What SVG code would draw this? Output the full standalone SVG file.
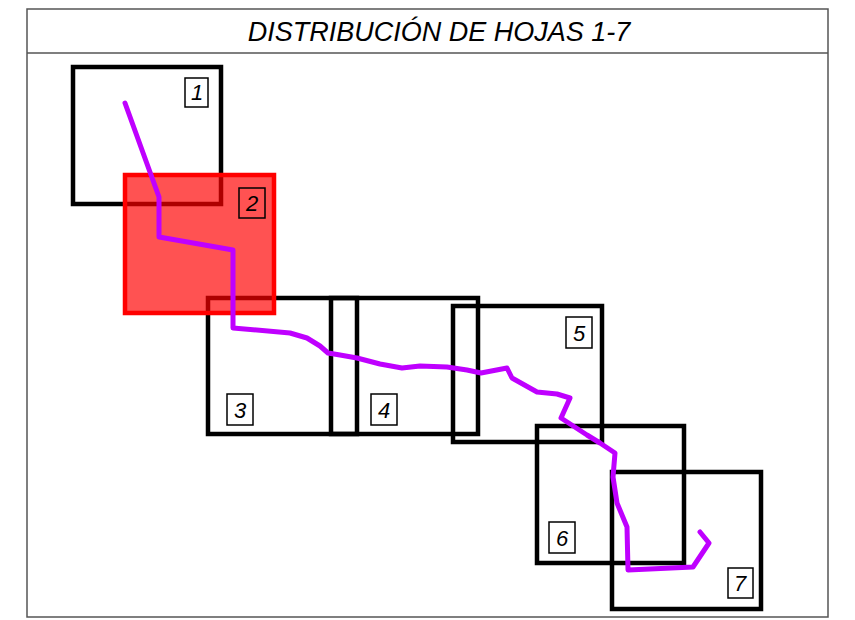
<svg xmlns="http://www.w3.org/2000/svg" width="855" height="620" viewBox="0 0 855 620">
<style>
.frame{fill:#fff;stroke:#555;stroke-width:1.5}
.sheet{fill:none;stroke:#000;stroke-width:4.5;stroke-linejoin:miter}
.red{fill:#ff0000;fill-opacity:0.68;stroke:#ff0000;stroke-width:4.5}
.lbox{fill:#fff;stroke:#000;stroke-width:1.5}
.lbl{font-family:"Liberation Sans",Arial,sans-serif;font-style:italic;font-size:22px;fill:#000;text-anchor:middle}
.title{font-family:"Liberation Sans",Arial,sans-serif;font-style:italic;font-size:27px;fill:#000;text-anchor:middle}
.route{fill:none;stroke:#bf00ff;stroke-width:5;stroke-linecap:round;stroke-linejoin:round}
</style>
<rect class="frame" x="27" y="9" width="801" height="608"/>
<line x1="27" y1="53" x2="828" y2="53" stroke="#555" stroke-width="1.5"/>
<text class="title" x="439" y="41">DISTRIBUCIÓN DE HOJAS 1-7</text>

<g id="sheet1">
<rect class="sheet" x="73" y="67" width="148" height="137"/>
<rect class="lbox" x="185" y="78" width="23" height="29"/>
<text class="lbl" x="197" y="100">1</text>
</g>
<g id="sheet3">
<rect class="sheet" x="208" y="298" width="149" height="136"/>
<rect class="lbox" x="227" y="394" width="26" height="31"/>
<text class="lbl" x="240" y="418">3</text>
</g>
<g id="sheet4">
<rect class="sheet" x="331" y="298" width="147" height="136"/>
<rect class="lbox" x="371" y="394" width="26" height="31"/>
<text class="lbl" x="384" y="418">4</text>
</g>
<g id="sheet5">
<rect class="sheet" x="453" y="306" width="149" height="136"/>
<rect class="lbox" x="566" y="317" width="26" height="31"/>
<text class="lbl" x="579" y="341">5</text>
</g>
<g id="sheet6">
<rect class="sheet" x="537" y="426" width="147" height="137"/>
<rect class="lbox" x="549" y="522" width="26" height="31"/>
<text class="lbl" x="562" y="546">6</text>
</g>
<g id="sheet7">
<rect class="sheet" x="612" y="472" width="149" height="137"/>
<rect class="lbox" x="728" y="568" width="25" height="30"/>
<text class="lbl" x="740" y="591">7</text>
</g>
<g id="sheet2">
<rect class="red" x="125" y="175" width="149" height="138"/>
<rect class="lbox" x="239" y="188" width="26" height="30" style="fill:none"/>
<text class="lbl" x="252" y="211">2</text>
</g>

<g id="connectors">
<path class="route" d="M125,103 L159,197 L159,237 L233,250 L233,328 L290,333 L307,338 L320,346 L328,353 L340,355 L357,358 L380,364 L402,368 L420,366 L447,367 L467,370 L481,373 L507,368 L512,378 L537,392 L557,394 L570,398 L561,418 L587,435 L600,443 L615,453 L613,477 L617,503 L627,527 L628,570 L693,567 L709,543 L700,532"/>
</g>
</svg>
